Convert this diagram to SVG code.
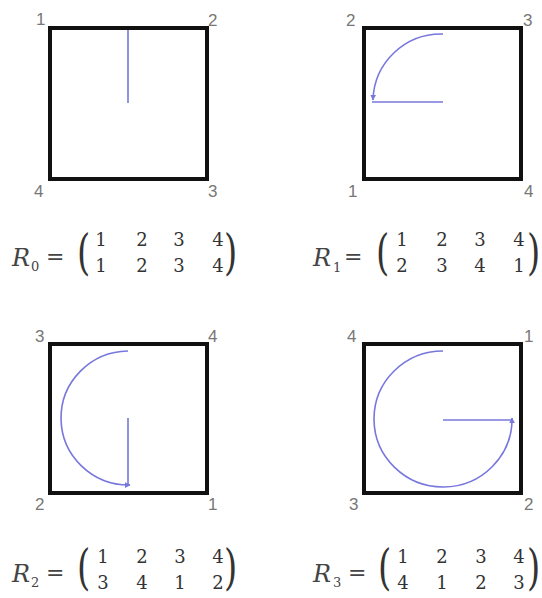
<svg xmlns="http://www.w3.org/2000/svg" width="542" height="598" viewBox="0 0 542 598">
<style>
.sq{fill:none;stroke:#111;stroke-width:4}
.lb{font-family:"Liberation Sans",Arial,sans-serif;font-size:17px;fill:#777}
.bl{fill:none;stroke:#7777dd;stroke-width:1.6}
.R{font-family:"DejaVu Serif","Liberation Serif",serif;font-style:italic;font-size:24px;fill:#444}
.sub{font-family:"DejaVu Serif","Liberation Serif",serif;font-size:13px;fill:#444}
.eq{font-family:"DejaVu Serif","Liberation Serif",serif;font-size:22px;fill:#444}
.d{font-family:"DejaVu Serif","Liberation Serif",serif;font-size:18px;fill:#333;text-anchor:middle}
.p{font-family:"DejaVu Serif","Liberation Serif",serif;font-size:34px;fill:#333}
</style>
<defs>
<marker id="ah" viewBox="0 0 10 10" refX="9" refY="5" markerWidth="6" markerHeight="6" orient="auto" markerUnits="userSpaceOnUse">
<path d="M0,0 L10,5 L0,10 z" fill="#7777dd"/>
</marker>
</defs>

<g id="r0">
<rect class="sq" x="50" y="28" width="157" height="151"/>
<text class="lb" x="36" y="25">1</text>
<text class="lb" x="208" y="26">2</text>
<text class="lb" x="34" y="197">4</text>
<text class="lb" x="208" y="197">3</text>
<path class="bl" d="M128,30 L128,103"/>
</g>

<g id="r1">
<rect class="sq" x="364" y="28" width="157" height="151"/>
<text class="lb" x="346" y="26">2</text>
<text class="lb" x="523" y="26">3</text>
<text class="lb" x="348" y="197">1</text>
<text class="lb" x="524" y="197">4</text>
<path class="bl" d="M443,102 L372,102"/>
<path class="bl" d="M443,34 A68,68 0 0 0 373,100" marker-end="url(#ah)"/>
</g>

<g id="r2">
<rect class="sq" x="50" y="344" width="157" height="149"/>
<text class="lb" x="35" y="342">3</text>
<text class="lb" x="208" y="342">4</text>
<text class="lb" x="35" y="510">2</text>
<text class="lb" x="208" y="510">1</text>
<path class="bl" d="M128,418 L128,485"/>
<path class="bl" d="M128,351 A68,67 0 0 0 130,485" marker-end="url(#ah)"/>
</g>

<g id="r3">
<rect class="sq" x="364" y="344" width="157" height="149"/>
<text class="lb" x="347" y="342">4</text>
<text class="lb" x="524" y="342">1</text>
<text class="lb" x="349" y="510">3</text>
<text class="lb" x="524" y="510">2</text>
<path class="bl" d="M443,420 L512,420"/>
<path class="bl" d="M443,351 A69,68 0 1 0 512,418" marker-end="url(#ah)"/>
</g>

<g id="m0">
<text class="R" x="12" y="266">R</text>
<text class="sub" x="31" y="271">0</text>
<text class="eq" x="46" y="264">=</text>
<text class="p" transform="translate(77,269) scale(1,1.45)">(</text>
<text class="d" x="101" y="246">1</text><text class="d" x="142" y="246">2</text><text class="d" x="179" y="246">3</text><text class="d" x="218" y="246">4</text>
<text class="d" x="101" y="272">1</text><text class="d" x="142" y="272">2</text><text class="d" x="179" y="272">3</text><text class="d" x="218" y="272">4</text>
<text class="p" transform="translate(224,269) scale(1,1.45)">)</text>
</g>

<g id="m1">
<text class="R" x="313" y="266">R</text>
<text class="sub" x="333" y="272">1</text>
<text class="eq" x="344" y="264">=</text>
<text class="p" transform="translate(376,269) scale(1,1.45)">(</text>
<text class="d" x="402" y="246">1</text><text class="d" x="442" y="246">2</text><text class="d" x="480" y="246">3</text><text class="d" x="519" y="246">4</text>
<text class="d" x="402" y="272">2</text><text class="d" x="442" y="272">3</text><text class="d" x="480" y="272">4</text><text class="d" x="519" y="272">1</text>
<text class="p" transform="translate(527,269) scale(1,1.45)">)</text>
</g>

<g id="m2">
<text class="R" x="12" y="582">R</text>
<text class="sub" x="31" y="587">2</text>
<text class="eq" x="46" y="580">=</text>
<text class="p" transform="translate(77,584) scale(1,1.45)">(</text>
<text class="d" x="103" y="563">1</text><text class="d" x="142" y="563">2</text><text class="d" x="180" y="563">3</text><text class="d" x="218" y="563">4</text>
<text class="d" x="103" y="589">3</text><text class="d" x="142" y="589">4</text><text class="d" x="180" y="589">1</text><text class="d" x="218" y="589">2</text>
<text class="p" transform="translate(224,584) scale(1,1.45)">)</text>
</g>

<g id="m3">
<text class="R" x="313" y="582">R</text>
<text class="sub" x="333" y="587">3</text>
<text class="eq" x="348" y="580">=</text>
<text class="p" transform="translate(378,584) scale(1,1.45)">(</text>
<text class="d" x="403" y="563">1</text><text class="d" x="442" y="563">2</text><text class="d" x="481" y="563">3</text><text class="d" x="519" y="563">4</text>
<text class="d" x="403" y="589">4</text><text class="d" x="442" y="589">1</text><text class="d" x="481" y="589">2</text><text class="d" x="519" y="589">3</text>
<text class="p" transform="translate(527,584) scale(1,1.45)">)</text>
</g>
</svg>
